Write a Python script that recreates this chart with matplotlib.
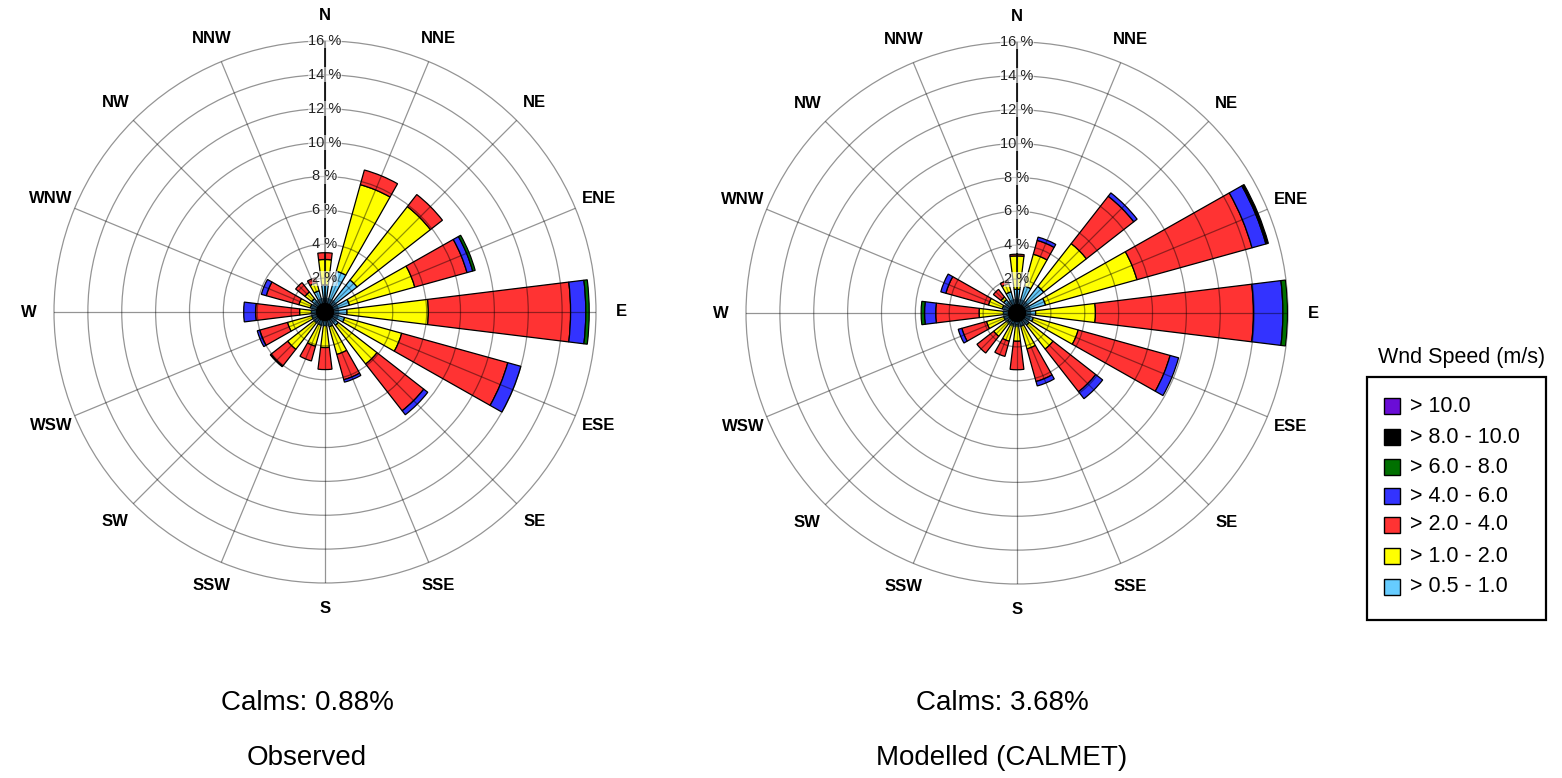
import numpy as np
import matplotlib
matplotlib.use("Agg")
import matplotlib.pyplot as plt
from matplotlib.patches import Rectangle

plt.rcParams["font.family"] = ["Liberation Sans", "DejaVu Sans"]

directions = ["N", "NNE", "NE", "ENE", "E", "ESE", "SE", "SSE",
              "S", "SSW", "SW", "WSW", "W", "WNW", "NW", "NNW"]

speed_classes = ["> 0.5 - 1.0", "> 1.0 - 2.0", "> 2.0 - 4.0", "> 4.0 - 6.0",
                 "> 6.0 - 8.0", "> 8.0 - 10.0", "> 10.0"]
class_colors = ["#66CCFF", "#FFFF00", "#FF3333", "#3333FF",
                "#007000", "#000000", "#6A0DD6"]

# Frequency (%) of each speed class per direction -- observed station data
obs_05_1 = [1.6, 2.5, 2.4, 1.5, 1.3, 1.2, 1.0, 0.9, 0.8, 0.8, 0.8, 0.8, 0.8, 0.9, 1.0, 1.3]
obs_1_2 = [1.5, 5.3, 5.5, 4.0, 4.8, 3.5, 2.9, 1.7, 1.3, 1.3, 2.0, 1.5, 0.7, 0.7, 0.5, 0.5]
obs_2_4 = [0.4, 0.9, 0.9, 3.2, 8.4, 6.5, 3.5, 1.55, 1.3, 0.9, 1.25, 1.7, 2.6, 2.0, 0.7, 0.3]
obs_4_6 = [0.0, 0.0, 0.0, 0.35, 0.9, 0.8, 0.3, 0.15, 0.0, 0.0, 0.05, 0.15, 0.7, 0.3, 0.0, 0.0]
obs_6_8 = [0.0, 0.0, 0.0, 0.15, 0.2, 0.0, 0.0, 0.0, 0.0, 0.0, 0.0, 0.0, 0.0, 0.0, 0.0, 0.0]
obs_8_10 = [0.0] * 16
obs_10 = [0.0] * 16
obs_calms = 0.88

# Frequency (%) of each speed class per direction -- CALMET model output
mod_05_1 = [1.4, 1.65, 2.0, 1.75, 1.1, 1.0, 0.9, 0.8, 0.7, 0.7, 0.7, 0.8, 0.8, 0.9, 1.0, 1.3]
mod_1_2 = [1.97, 1.95, 3.2, 5.6, 3.53, 2.75, 1.8, 1.4, 0.97, 1.03, 1.05, 1.07, 1.44, 0.85, 0.2, 0.5]
mod_2_4 = [0.1, 0.85, 3.55, 7.05, 9.33, 5.63, 3.2, 2.0, 1.68, 0.93, 1.25, 1.51, 2.56, 2.61, 0.57, 0.2]
mod_4_6 = [0.0, 0.2, 0.25, 0.85, 1.74, 0.52, 0.52, 0.27, 0.0, 0.0, 0.0, 0.22, 0.66, 0.31, 0.0, 0.0]
mod_6_8 = [0.0, 0.0, 0.0, 0.0, 0.27, 0.0, 0.0, 0.0, 0.0, 0.0, 0.0, 0.0, 0.2, 0.0, 0.0, 0.0]
mod_8_10 = [0.0, 0.0, 0.0, 0.15, 0.0, 0.0, 0.0, 0.0, 0.0, 0.0, 0.0, 0.0, 0.0, 0.0, 0.0, 0.0]
mod_10 = [0.0] * 16
mod_calms = 3.68

ring_levels = [2, 4, 6, 8, 10, 12, 14, 16]

W, H = 1562, 778
fig = plt.figure(figsize=(W / 100, H / 100), dpi=100)
fig.patch.set_facecolor("white")

R_PX = 271  # radius of the 16 % ring in pixels


def rose(cx, cy, series):
    ax = fig.add_axes([(cx - R_PX) / W, (H - cy - R_PX) / H,
                       2 * R_PX / W, 2 * R_PX / H], projection="polar")
    ax.set_theta_zero_location("N")
    ax.set_theta_direction(-1)
    ax.set_ylim(0, ring_levels[-1])
    theta = np.deg2rad(np.arange(16) * 22.5)
    width = np.deg2rad(14.0)
    base = np.zeros(16)
    for vals, col in zip(series, class_colors):
        vals = np.asarray(vals, dtype=float)
        mask = vals > 0
        ax.bar(theta[mask], vals[mask], width=width, bottom=base[mask],
               color=col, edgecolor="black", linewidth=0.9, zorder=2)
        base = base + vals
    # grid drawn over the bars
    ax.set_thetagrids(np.arange(16) * 22.5, labels=[""] * 16)
    ax.set_rgrids(ring_levels[:-1], labels=[""] * (len(ring_levels) - 1))
    ax.grid(True, color="black", alpha=0.42, linewidth=0.9)
    ax.set_axisbelow(False)
    ax.spines["polar"].set_edgecolor((0, 0, 0, 0.42))
    ax.spines["polar"].set_linewidth(0.9)
    ax.tick_params(length=0, pad=0)
    # dark hub where the bars meet
    hub = np.linspace(0, 2 * np.pi, 100)
    ax.fill(hub, np.full_like(hub, 0.5), color="black", zorder=4)
    ax.fill(hub, np.full_like(hub, 0.8), color="#0a2030", alpha=0.6, zorder=3.9)
    # north axis
    ax.plot([0, 0], [0, ring_levels[-1]], color="black", linewidth=1.2, zorder=5)
    for lv in ring_levels:
        ax.text(0, lv, f"{lv} %", ha="center", va="center", fontsize=10.5,
                color="#222222", zorder=6,
                bbox=dict(facecolor="white", alpha=0.55, edgecolor="none", pad=0.3))
    for ang, name in zip(theta, directions):
        ax.text(ang, 17.5, name, ha="center", va="center", fontsize=12,
                fontweight="bold", clip_on=False)
    return ax


rose(325, 312, [obs_05_1, obs_1_2, obs_2_4, obs_4_6, obs_6_8, obs_8_10, obs_10])
rose(1017, 313, [mod_05_1, mod_1_2, mod_2_4, mod_4_6, mod_6_8, mod_8_10, mod_10])

fig.text(307 / W, 1 - 703 / H, f"Calms: {obs_calms:.2f}%", ha="center", va="center", fontsize=20)
fig.text(307 / W, 1 - 758 / H, "Observed", ha="center", va="center", fontsize=20)
fig.text(1002 / W, 1 - 703 / H, f"Calms: {mod_calms:.2f}%", ha="center", va="center", fontsize=20)
fig.text(1002 / W, 1 - 758 / H, "Modelled (CALMET)", ha="center", va="center", fontsize=20)

# legend drawn in pixel coordinates
lax = fig.add_axes([0, 0, 1, 1], facecolor="none")
lax.set_xlim(0, W)
lax.set_ylim(H, 0)
lax.axis("off")
lax.text(1462, 357, "Wnd Speed (m/s)", ha="center", va="center", fontsize=15.5)
lax.add_patch(Rectangle((1367, 377), 179, 243, facecolor="white",
                        edgecolor="black", linewidth=1.6))
row_y = [406, 437, 467, 496, 525, 556, 587]
for y, name, col in zip(row_y, speed_classes[::-1], class_colors[::-1]):
    lax.add_patch(Rectangle((1384, y - 8), 16, 16, facecolor=col,
                            edgecolor="black", linewidth=1.0))
    lax.text(1410, y, name, ha="left", va="center", fontsize=15.5)

fig.savefig("out.png", dpi=100, facecolor="white")
